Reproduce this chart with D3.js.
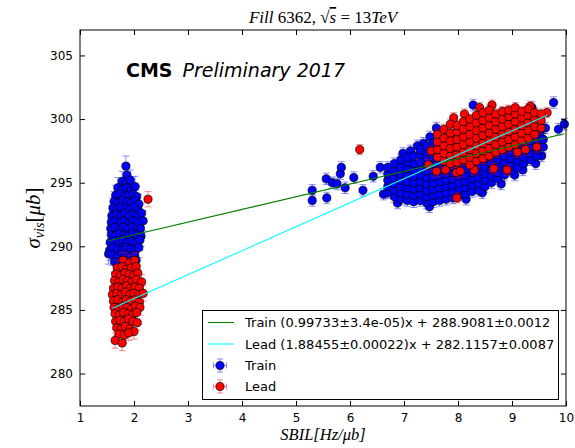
<!DOCTYPE html>
<html>
<head>
<meta charset="utf-8">
<script src="https://cdn.jsdelivr.net/npm/d3@7"></script>
<style>
  body { margin: 0; background: #fff; }
  svg { display: block; }
</style>
</head>
<body>
<div id="chart"></div>
<script>
// ---- data ----
const seriesNames = ["Train", "Lead"];
const fitSlopes = [0.99733, 1.88455];
const fitIntercepts = [288.9081, 282.1157];
const fitLabels = [
    "Train (0.99733\u00b13.4e-05)x + 288.9081\u00b10.0012",
    "Lead (1.88455\u00b10.00022)x + 282.1157\u00b10.0087"
];
const xTicks = [1, 2, 3, 4, 5, 6, 7, 8, 9, 10];
const yTicks = [280, 285, 290, 295, 300, 305];

// Train, low-SBIL cluster  [x, y]
const trainLow = [
    [1.85,296.3],[1.87,295.6],
    [1.78,295.1],[1.86,295.0],[1.93,295.2],
    [1.70,294.6],[1.79,294.5],[1.87,294.6],[1.95,294.4],[2.02,294.7],
    [1.66,294.0],[1.74,294.1],[1.82,293.9],[1.90,294.0],[1.98,294.1],[2.05,293.9],
    [1.63,293.5],[1.71,293.4],[1.79,293.6],[1.87,293.5],[1.95,293.4],[2.03,293.6],[2.09,293.3],
    [1.61,293.0],[1.69,292.9],[1.77,293.1],[1.85,293.0],[1.93,292.9],[2.01,293.1],[2.08,292.8],
    [1.59,292.4],[1.67,292.5],[1.75,292.4],[1.83,292.6],[1.91,292.4],[1.99,292.5],[2.07,292.4],[2.14,292.6],
    [1.58,291.9],[1.66,292.0],[1.74,291.9],[1.82,292.0],[1.90,291.8],[1.98,292.0],[2.06,291.9],[2.17,292.0],
    [1.57,291.4],[1.65,291.5],[1.73,291.3],[1.81,291.5],[1.89,291.4],[1.97,291.5],[2.05,291.3],[2.12,291.4],
    [1.58,290.9],[1.66,290.8],[1.74,291.0],[1.82,290.9],[1.90,290.8],[1.98,291.0],[2.06,290.9],[2.13,290.8],
    [1.56,290.3],[1.64,290.4],[1.72,290.3],[1.80,290.5],[1.88,290.3],[1.96,290.4],[2.04,290.3],[2.11,290.5],
    [1.55,289.7],[1.62,289.9],[1.70,289.8],[1.78,289.7],[1.86,289.9],[1.94,289.8],[2.02,289.7],[2.09,289.9],
    [1.53,289.4],[1.61,289.3],[1.69,289.2],[1.77,289.4],[1.85,289.3],[1.93,289.2],[2.01,289.3],
    [1.64,288.8],[1.72,288.7],[1.80,288.9],[1.88,288.8],[1.96,288.7],[2.04,288.9],
    [1.70,288.2],[1.78,288.3],[1.86,288.1],[1.94,288.3],
    [1.78,287.8],[1.86,287.9]
];

// Train, high-SBIL points: isolated ones, then columns [x, [y...]]
const trainHighSingles = [
    [5.30,294.4],[5.30,293.6],[5.56,295.3],[5.57,293.8],[5.67,295.0],[5.76,294.9],
    [5.82,295.7],[5.84,296.2],[5.91,294.6],[6.07,295.4],[6.24,294.4],[6.43,295.5],
    [6.56,296.2],[6.62,294.1],[7.60,299.3],[8.28,301.1],[9.37,300.9],[9.77,301.3],
    [9.86,299.2],[9.97,299.6],[7.12,297.5],[7.36,298.1],[6.98,297.3],[7.25,297.9],
    [8.80,294.9],[9.20,296.0],[9.44,296.5],[9.55,297.1],[9.52,298.9],[9.05,295.6],
    [8.45,294.2],[7.47,293.1],[6.88,293.4],[8.15,293.7],[9.62,299.3],[7.48,298.6]
];
const trainHighCols = [
    [6.70, [294.2, 294.7, 295.2, 295.7, 296.2]],
    [6.82, [293.9, 294.4, 294.9, 295.4, 295.9, 296.5]],
    [6.94, [293.7, 294.2, 294.7, 295.2, 295.7, 296.2, 296.8]],
    [7.06, [293.6, 294.1, 294.6, 295.1, 295.6, 296.1, 296.6, 297.0]],
    [7.18, [293.5, 294.0, 294.5, 295.0, 295.5, 296.0, 296.5, 297.1]],
    [7.30, [293.6, 294.1, 294.6, 295.1, 295.6, 296.1, 296.6, 297.2, 297.6]],
    [7.42, [293.4, 293.9, 294.4, 294.9, 295.4, 295.9, 296.4, 296.9, 297.4, 297.9]],
    [7.54, [293.5, 294.0, 294.5, 295.0, 295.5, 296.0, 296.5, 297.0, 297.5, 298.1]],
    [7.66, [293.6, 294.1, 294.6, 295.1, 295.6, 296.1, 296.6, 297.2, 297.7, 298.3]],
    [7.78, [293.7, 294.2, 294.7, 295.2, 295.7, 296.2, 296.7, 297.3, 297.9, 298.5]],
    [7.90, [293.8, 294.3, 294.8, 295.3, 295.8, 296.3, 296.8, 297.4, 298.0, 298.6]],
    [8.02, [294.0, 294.5, 295.0, 295.5, 296.0, 296.5, 297.1, 297.7, 298.3, 298.9]],
    [8.14, [294.1, 294.6, 295.1, 295.6, 296.1, 296.6, 297.2, 297.8, 298.4, 299.0]],
    [8.26, [294.3, 294.8, 295.3, 295.8, 296.3, 296.9, 297.5, 298.1, 298.7]],
    [8.38, [294.4, 294.9, 295.4, 295.9, 296.4, 297.0, 297.6, 298.2, 298.8]],
    [8.50, [294.7, 295.2, 295.7, 296.2, 296.7, 297.3, 297.9, 298.5, 299.1]],
    [8.62, [295.0, 295.5, 296.0, 296.5, 297.0, 297.6, 298.2, 298.8]],
    [8.74, [295.3, 295.8, 296.3, 296.8, 297.3, 297.9, 298.5, 299.1]],
    [8.86, [295.6, 296.1, 296.6, 297.1, 297.6, 298.2, 298.8]],
    [8.98, [295.9, 296.4, 296.9, 297.4, 297.9, 298.5, 299.1]],
    [9.10, [296.2, 296.7, 297.2, 297.7, 298.2, 298.8]],
    [9.22, [296.5, 297.0, 297.5, 298.0, 298.5, 299.1]],
    [9.34, [296.8, 297.3, 297.8, 298.3, 298.9]],
    [9.46, [297.1, 297.6, 298.1, 298.7]],
    [9.58, [297.8, 298.4]]
];

// Lead, low-SBIL cluster
const leadLow = [
    [2.26,293.7],
    [1.80,288.9],[1.92,288.7],[2.01,288.9],
    [1.69,288.3],[1.78,288.4],[1.86,288.2],[1.95,288.3],[2.04,288.4],
    [1.66,287.8],[1.75,287.7],[1.83,287.9],[1.91,287.8],[1.99,287.7],[2.07,287.9],
    [1.64,287.3],[1.72,287.2],[1.80,287.4],[1.88,287.3],[1.96,287.2],[2.04,287.4],[2.14,287.2],
    [1.62,286.7],[1.70,286.8],[1.78,286.7],[1.86,286.9],[1.94,286.7],[2.02,286.8],[2.10,286.7],
    [1.60,286.2],[1.68,286.3],[1.76,286.2],[1.84,286.4],[1.92,286.2],[2.00,286.3],[2.08,286.2],[2.17,286.3],
    [1.62,285.7],[1.70,285.8],[1.78,285.6],[1.86,285.8],[1.94,285.7],[2.02,285.8],[2.10,285.6],
    [1.63,285.2],[1.71,285.1],[1.79,285.3],[1.87,285.2],[1.95,285.1],[2.03,285.3],[2.11,285.2],
    [1.65,284.7],[1.73,284.6],[1.81,284.8],[1.89,284.7],[1.97,284.6],[2.05,284.8],
    [1.66,284.1],[1.74,284.2],[1.82,284.1],[1.90,284.3],[1.98,284.1],[2.06,284.0],
    [1.68,283.6],[1.76,283.5],[1.84,283.7],[1.92,283.5],[2.00,283.3],
    [1.72,283.1],[1.82,283.0],[1.90,283.2],
    [1.65,282.6],[1.78,282.4]
];

// Lead, high-SBIL points
const leadHighSingles = [
    [6.18,297.6],[7.98,293.8],[8.91,296.0],[8.66,296.1],[7.60,295.9],[7.77,296.0],
    [7.97,295.8],[8.04,295.9],[8.63,301.1],[9.34,301.0],[9.65,300.5],[7.50,297.5],
    [7.45,296.4],[7.92,300.1],[8.12,300.4],[8.40,300.9],[9.46,297.8],[9.25,297.6],
    [8.30,296.0],[9.10,297.4]
];
const leadHighCols = [
    [7.62, [297.0, 297.6, 298.2, 298.8]],
    [7.74, [296.7, 297.3, 297.9, 298.5, 299.2]],
    [7.86, [296.5, 297.1, 297.7, 298.3, 298.9, 299.6]],
    [7.98, [296.6, 297.2, 297.8, 298.4, 299.0, 299.5]],
    [8.10, [296.8, 297.4, 298.0, 298.6, 299.2, 299.8]],
    [8.22, [296.4, 297.0, 297.6, 298.2, 298.8, 299.4, 300.0]],
    [8.34, [296.7, 297.3, 297.9, 298.5, 299.1, 299.7, 300.3]],
    [8.46, [296.9, 297.5, 298.1, 298.7, 299.3, 299.9, 300.5]],
    [8.58, [297.1, 297.7, 298.3, 298.9, 299.5, 300.1, 300.7]],
    [8.70, [297.4, 298.0, 298.6, 299.2, 299.8, 300.4]],
    [8.82, [297.6, 298.2, 298.8, 299.4, 300.0, 300.6]],
    [8.94, [297.8, 298.4, 299.0, 299.6, 300.2, 300.7]],
    [9.06, [298.0, 298.6, 299.2, 299.8, 300.4, 300.9]],
    [9.18, [298.3, 298.9, 299.5, 300.1, 300.6]],
    [9.30, [298.5, 299.1, 299.7, 300.3, 300.8]],
    [9.42, [298.8, 299.4, 300.0, 300.5]],
    [9.54, [299.3, 299.9, 300.4]]
];

// error sizes per cluster (sigma in y, SBIL)
const yErrLow = [0.8, 0.6];
const yErrHigh = [0.45, 0.4];
const xErr = 0.03;

// ---- layout ----
const width = 575, height = 448;
const margin = {top: 30, right: 9, bottom: 42, left: 80};
const colors = ["#0000ff", "#ff0000"];
const fitColors = ["#008000", "#00ffff"];

const flatCols = cols => cols.flatMap(([x, ys]) => ys.map(y => [x, y]));
const withErr = (pts, e) => pts.map(([x, y]) => ({x, y, ey: e}));

const series = [
    withErr(trainLow, yErrLow[0]).concat(withErr(trainHighSingles.concat(flatCols(trainHighCols)), yErrHigh[0])),
    withErr(leadLow, yErrLow[1]).concat(withErr(leadHighSingles.concat(flatCols(leadHighCols)), yErrHigh[1]))
];

const x = d3.scaleLinear().domain([1, 10]).range([margin.left, width - margin.right]);
const y = d3.scaleLinear().domain([277.45, 307.0]).range([height - margin.bottom, margin.top]);

const svg = d3.select("#chart").append("svg")
    .attr("width", width)
    .attr("height", height)
    .style("font-family", "'DejaVu Sans', sans-serif");

const cap = 3.5;

// points with error bars, series by series (lead on top)
series.forEach((pts, i) => {
    const g = svg.append("g");
    const bars = g.append("g")
        .attr("stroke", colors[i])
        .attr("stroke-opacity", 0.45)
        .attr("stroke-width", 1)
        .attr("fill", "none");
    bars.selectAll("path")
        .data(pts)
        .enter()
        .append("path")
        .attr("d", d => {
            const px = x(d.x), y0 = y(d.y - d.ey), y1 = y(d.y + d.ey);
            const x0 = x(d.x - xErr), x1 = x(d.x + xErr), py = y(d.y);
            return `M${px},${y0}V${y1}M${px - cap},${y0}H${px + cap}M${px - cap},${y1}H${px + cap}` +
                `M${x0},${py}H${x1}`;
        });
    g.append("g")
        .selectAll("circle")
        .data(pts)
        .enter()
        .append("circle")
        .attr("cx", d => x(d.x))
        .attr("cy", d => y(d.y))
        .attr("r", 4.1)
        .attr("fill", colors[i])
        .attr("stroke", "#000")
        .attr("stroke-width", 0.7);
});

// fit lines over the data range
series.forEach((pts, i) => {
    const [lo, hi] = d3.extent(pts, d => d.x);
    const f = v => fitSlopes[i] * v + fitIntercepts[i];
    svg.append("line")
        .attr("x1", x(lo)).attr("y1", y(f(lo)))
        .attr("x2", x(hi)).attr("y2", y(f(hi)))
        .attr("stroke", fitColors[i])
        .attr("stroke-width", 1.1);
});

// axes, ticks pointing inward on all four sides
const gx = svg.append("g")
    .attr("transform", `translate(0,${height - margin.bottom})`)
    .call(d3.axisBottom(x).tickValues(xTicks).tickSizeInner(-5).tickSizeOuter(0).tickPadding(7));
const gy = svg.append("g")
    .attr("transform", `translate(${margin.left},0)`)
    .call(d3.axisLeft(y).tickValues(yTicks).tickSizeInner(-5).tickSizeOuter(0).tickPadding(7));
const gt = svg.append("g")
    .attr("transform", `translate(0,${margin.top})`)
    .call(d3.axisTop(x).tickValues(xTicks).tickSizeInner(-5).tickSizeOuter(0).tickFormat(""));
const gr = svg.append("g")
    .attr("transform", `translate(${width - margin.right},0)`)
    .call(d3.axisRight(y).tickValues(yTicks).tickSizeInner(-5).tickSizeOuter(0).tickFormat(""));
[gx, gy, gt, gr].forEach(g => {
    g.select(".domain").remove();
    g.selectAll("text").attr("font-size", 12).attr("fill", "#000")
        .style("font-family", "'DejaVu Sans', sans-serif");
    g.selectAll("line").attr("stroke", "#000");
});

svg.append("rect")
    .attr("x", margin.left).attr("y", margin.top)
    .attr("width", width - margin.left - margin.right)
    .attr("height", height - margin.top - margin.bottom)
    .attr("fill", "none")
    .attr("stroke", "#000")
    .attr("stroke-width", 1);

// CMS label
const cms = svg.append("text")
    .attr("x", 126)
    .attr("y", 77)
    .attr("font-size", 19);
cms.append("tspan").attr("font-weight", "bold").text("CMS");
cms.append("tspan").attr("dx", 10).attr("font-style", "italic").text("Preliminary 2017");

// legend
const lg = svg.append("g");
lg.append("rect")
    .attr("x", 202.5).attr("y", 310.5)
    .attr("width", 356).attr("height", 89)
    .attr("fill", "#fff").attr("stroke", "#000").attr("stroke-width", 1);
const rowY = [322.5, 344, 365.5, 386.5];
fitLabels.forEach((t, i) => {
    lg.append("line")
        .attr("x1", 208).attr("x2", 234)
        .attr("y1", rowY[i]).attr("y2", rowY[i])
        .attr("stroke", fitColors[i]).attr("stroke-width", 1.1);
    lg.append("text")
        .attr("x", 245).attr("y", rowY[i]).attr("dy", "0.36em")
        .attr("font-size", 13).text(t);
});
seriesNames.forEach((t, i) => {
    const cy = rowY[i + 2], cx = 220;
    lg.append("path")
        .attr("d", `M${cx},${cy - 6.5}V${cy + 6.5}M${cx - 3},${cy - 6.5}H${cx + 3}M${cx - 3},${cy + 6.5}H${cx + 3}` +
            `M${cx - 6.5},${cy}H${cx + 6.5}M${cx - 6.5},${cy - 3}V${cy + 3}M${cx + 6.5},${cy - 3}V${cy + 3}`)
        .attr("stroke", colors[i]).attr("stroke-opacity", 0.45).attr("fill", "none");
    lg.append("circle")
        .attr("cx", cx).attr("cy", cy).attr("r", 4.1)
        .attr("fill", colors[i]).attr("stroke", "#000").attr("stroke-width", 0.7);
    lg.append("text")
        .attr("x", 245).attr("y", cy).attr("dy", "0.36em")
        .attr("font-size", 13).text(t);
});

// title and axis labels (math-style serif)
const serif = "'Liberation Serif', 'DejaVu Serif', serif";
const title = svg.append("text")
    .attr("x", (margin.left + width - margin.right) / 2)
    .attr("y", 23)
    .attr("text-anchor", "middle")
    .attr("font-size", 17)
    .style("font-family", serif);
title.append("tspan").attr("font-style", "italic").text("Fill");
title.append("tspan").text(" 6362,  \u221a");
title.append("tspan").attr("font-style", "italic").style("text-decoration", "overline").text("s");
title.append("tspan").text(" = 13");
title.append("tspan").attr("font-style", "italic").text("TeV");

svg.append("text")
    .attr("x", (margin.left + width - margin.right) / 2)
    .attr("y", 440)
    .attr("text-anchor", "middle")
    .attr("font-size", 16.5)
    .attr("font-style", "italic")
    .style("font-family", serif)
    .text("SBIL[Hz/\u03bcb]");

const yl = svg.append("text")
    .attr("transform", `translate(40,${(margin.top + height - margin.bottom) / 2}) rotate(-90)`)
    .attr("text-anchor", "middle")
    .attr("font-size", 21)
    .style("font-family", serif);
yl.append("tspan").attr("font-style", "italic").text("\u03c3");
yl.append("tspan").attr("font-style", "italic").attr("font-size", 14).attr("dy", 4).text("vis");
yl.append("tspan").attr("dy", -4).text("[");
yl.append("tspan").attr("font-style", "italic").text("\u03bcb");
yl.append("tspan").text("]");
</script>
</body>
</html>
